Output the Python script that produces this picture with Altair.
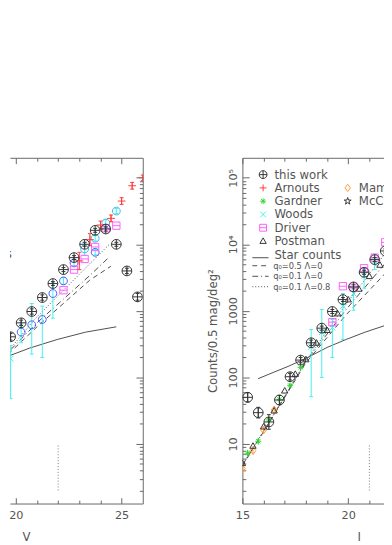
import altair as alt
import pandas as pd

# ------------------------------------------------------------------ data
# (values are log10 of counts per 0.5 mag per deg^2)

# ---- left panel : V band ----
v_this = [19.75, 20.25, 20.75, 21.25, 21.75, 22.25, 22.75, 23.25, 23.75, 24.25, 24.75, 25.25, 25.75]
v_this_log = [2.61, 2.82, 2.99, 3.20, 3.41, 3.62, 3.80, 4.00, 4.21, 4.23, 4.00, 3.60, 3.21]
v_this_err = [0.05, 0.04, 0.04, 0.04, 0.03, 0.03, 0.03, 0.03, 0.03, 0.03, 0.03, 0.04, 0.05]

v_blue = [20.25, 20.75, 21.25, 21.75, 22.25, 22.75, 23.75]
v_blue_log = [2.68, 2.79, 2.87, 3.26, 3.45, 3.72, 3.88]
v_blue_lo = [2.52, 2.35, 2.30, 2.89, 3.40, 3.67, 3.84]
v_blue_hi = [2.80, 3.11, 3.07, 3.42, 3.50, 3.77, 3.92]

v_cyanc = [23.25, 23.75, 24.25, 24.75]
v_cyanc_log = [3.93, 4.09, 4.32, 4.50]
v_cyanc_lo = [3.83, 4.05, 4.27, 4.46]
v_cyanc_hi = [4.02, 4.13, 4.37, 4.54]

v_woods = [19.75]
v_woods_log = [2.28]
v_woods_lo = [1.68]
v_woods_hi = [2.48]

v_driver = [22.25, 22.75, 23.25, 23.75, 24.25, 24.75]
v_driver_log = [3.31, 3.62, 3.78, 3.96, 4.24, 4.28]

v_arn = [23.0, 23.5, 24.0, 24.5, 25.0, 25.5, 26.0]
v_arn_log = [3.75, 4.07, 4.29, 4.39, 4.65, 4.88, 5.00]
v_arn_err = [0.13, 0.09, 0.06, 0.05, 0.05, 0.05, 0.04]

v_star = [19.4, 20.65, 21.96, 23.3, 24.75]
v_star_log = [2.29, 2.44, 2.57, 2.68, 2.76]

v_m05 = [19.34, 21.0, 23.49, 24.49]          # q0=0.5 L=0
v_m05_log = [2.26, 2.76, 3.46, 3.67]
v_m01 = [19.34, 21.0, 23.49, 24.42]          # q0=0.1 L=0
v_m01_log = [2.28, 2.82, 3.53, 3.81]
v_m01L = [19.34, 20.88, 23.03, 24.42]        # q0=0.1 L=0.8
v_m01L_log = [2.28, 2.87, 3.56, 4.00]

v_limit = [22.0]

# ---- right panel : I band ----
i_this = [15.25, 15.75, 16.25, 16.75, 17.25, 17.75, 18.25, 18.75, 19.25, 19.75, 20.25, 20.75, 21.25, 21.75]
i_this_log = [1.70, 1.47, 1.33, 1.66, 2.01, 2.26, 2.52, 2.74, 2.99, 3.17, 3.36, 3.58, 3.77, 3.90]
i_this_err = [0.07, 0.08, 0.11, 0.07, 0.05, 0.04, 0.04, 0.03, 0.03, 0.03, 0.03, 0.03, 0.03, 0.03]

i_woods = [18.25, 18.75, 19.25, 19.75, 20.25, 20.75, 21.25]
i_woods_log = [2.46, 2.68, 2.75, 3.07, 3.26, 3.53, 3.75]
i_woods_lo = [1.71, 2.00, 2.30, 2.57, 3.01, 3.34, 3.62]
i_woods_hi = [2.72, 3.02, 2.87, 3.26, 3.36, 3.63, 3.85]

i_driver = [19.25, 19.75, 20.25, 20.75, 21.25, 21.75]
i_driver_log = [2.83, 3.37, 3.35, 3.64, 3.80, 4.03]

i_postman = [15.0, 15.5, 16.0, 16.5, 17.0, 17.5, 18.0, 18.5, 19.0, 19.5, 20.0, 20.5, 21.0, 21.5]
i_postman_log = [0.71, 0.97, 1.26, 1.50, 1.80, 2.05, 2.27, 2.52, 2.71, 2.96, 3.17, 3.33, 3.52, 3.69]

i_gardner = [15.25, 15.75, 16.25, 16.75, 17.25, 17.75]
i_gardner_log = [0.86, 1.04, 1.36, 1.67, 1.88, 2.15]
i_gardner_err = [0.05, 0.05, 0.04, 0.04, 0.03, 0.03]

i_mamon = [15.0, 15.5, 16.0, 16.5]
i_mamon_log = [0.63, 0.90, 1.21, 1.51]
i_mamon_err = [0.07, 0.06, 0.05, 0.05]

i_star = [15.74, 16.5, 17.2, 18.15, 19.0, 19.9, 20.8, 21.74]
i_star_log = [1.98, 2.08, 2.17, 2.31, 2.45, 2.57, 2.68, 2.78]

i_m05 = [15.0, 16.5, 18.0, 19.9, 21.74]
i_m05_log = [0.67, 1.44, 2.22, 2.94, 3.56]
i_m01 = [15.0, 16.5, 18.0, 19.9, 21.74]
i_m01_log = [0.68, 1.45, 2.24, 3.02, 3.71]
i_m01L = [15.0, 16.5, 18.0, 19.9, 21.74]
i_m01L_log = [0.68, 1.45, 2.25, 3.10, 3.86]

i_limit = [21.0]
limit_lo, limit_hi = [2.0], [10.0]

# ---- axes / legend text ----
v_tick_labels = [20, 25]
i_tick_labels = [15, 20]
y_label_vals = [10, 100, 1000, 10000, 100000]
y_label_txt = ['10', '100', '1000', '10\u2074', '10\u2075']

legend_labels = ['this work', 'Arnouts', 'Gardner', 'Woods', 'Driver', 'Postman']
legend2_labels = ['Mamon', 'McCracken']
line_labels = ['Star counts', 'q\u2080=0.5 \u039b=0', 'q\u2080=0.1 \u039b=0', 'q\u2080=0.1 \u039b=0.8']

# ------------------------------------------------------------------ style
FONT = 'DejaVu Sans'
TXT = '#555555'
FRAME = '#666666'
INK = '#333333'
RED = '#ff3b3b'
GREEN = '#2ed82e'
CYAN = '#3ff0f0'
MAGENTA = '#ff5cff'
ORANGE = '#ff9a3c'
BLUE = '#3f5fff'
LBLUE = '#35b8f0'
LINEC = '#4d4d4d'

OPLUS = 'M-1,0A1,1 0 1,0 1,0A1,1 0 1,0 -1,0M-1,0L1,0M0,-1L0,1'
CIRC = 'M-1,0A1,1 0 1,0 1,0A1,1 0 1,0 -1,0'
PLUS = 'M-1,0L1,0M0,-1L0,1'
CROSS = 'M-1,-1L1,1M-1,1L1,-1'
AST = 'M-1,0L1,0M0,-1L0,1M-0.7,-0.7L0.7,0.7M-0.7,0.7L0.7,-0.7'
SQUARE = 'M-1,-1L1,-1L1,1L-1,1ZM-1,0L1,0'
TRI = 'M0,-1L1,0.75L-1,0.75Z'
DIAMOND = 'M0,-1L0.75,0L0,1L-0.75,0Z'
STAR = ('M0,-1L0.224,-0.309L0.951,-0.309L0.363,0.118L0.588,0.809L0,0.382'
        'L-0.588,0.809L-0.363,0.118L-0.951,-0.309L-0.224,-0.309Z')
CAP = 'M-1,0L1,0'

DASH05 = [5, 4]
DASH01 = [6, 3, 1, 3]
DOT = [1, 2]

H = 354
WL, WR = 136, 145
YSC = alt.Scale(type='log', domain=[1.27, 199500], nice=False)
XLS = alt.Scale(domain=[19.72, 26.0], nice=False, zero=False)
XRS = alt.Scale(domain=[15.0, 21.69], nice=False, zero=False)

AX = dict(grid=False, domainColor=FRAME, domainWidth=1, tickColor=FRAME, tickWidth=1,
          labelColor=TXT, labelFont=FONT, labelFontSize=11.5, titleColor=TXT,
          titleFont=FONT, titleFontSize=12, titleFontWeight='normal')
XT = {'condition': {'test': 'datum.value % 5 === 0', 'value': 6}, 'value': 3.5}
YT = {'condition': {'test': 'abs(log(datum.value)/LN10 - round(log(datum.value)/LN10)) < 0.001',
                    'value': 7}, 'value': 3.5}

y_ticks = [m * 10 ** k for k in range(0, 6) for m in range(1, 10) if 1.27 <= m * 10 ** k <= 199500]
lab_expr = ''.join(f"datum.value == {v} ? '{t}' : " for v, t in zip(y_label_vals, y_label_txt)) + "''"


# ------------------------------------------------------------------ helpers
def frame(xs, logs, lo=None, hi=None, err=None):
    d = pd.DataFrame({'x': xs, 'n': [10 ** v for v in logs]})
    if err is not None:
        lo = [v - e for v, e in zip(logs, err)]
        hi = [v + e for v, e in zip(logs, err)]
    if lo is not None:
        d['lo'] = [10 ** v for v in lo]
        d['hi'] = [10 ** v for v in hi]
    return d


def points(d, xs, shape, size, color, sw=1.0):
    return alt.Chart(d).mark_point(shape=shape, size=size, filled=False, color=color,
                                   strokeWidth=sw, opacity=1, clip=True).encode(
        x=alt.X('x:Q', scale=xs, axis=None), y=alt.Y('n:Q', scale=YSC, axis=None))


def errbars(d, xs, color, capw=0):
    out = [alt.Chart(d).mark_rule(color=color, strokeWidth=1, clip=True).encode(
        x=alt.X('x:Q', scale=xs, axis=None), y=alt.Y('lo:Q', scale=YSC, axis=None),
        y2=alt.Y2('hi:Q'))]
    if capw:
        out.append(alt.Chart(d).transform_fold(['lo', 'hi'], as_=['k', 'v']).mark_point(
            shape=CAP, size=capw ** 2, filled=False, color=color, strokeWidth=1, opacity=1,
            clip=True).encode(x=alt.X('x:Q', scale=xs, axis=None),
                              y=alt.Y('v:Q', scale=YSC, axis=None)))
    return out


def curve(xv, logs, xs, dash=None, color=LINEC):
    kw = dict(color=color, strokeWidth=1, clip=True)
    if dash:
        kw['strokeDash'] = dash
    return alt.Chart(frame(xv, logs)).mark_line(**kw).encode(
        x=alt.X('x:Q', scale=xs, axis=None), y=alt.Y('n:Q', scale=YSC, axis=None))


def limit_rule(xv, xs):
    d = pd.DataFrame({'x': xv, 'lo': limit_lo, 'hi': limit_hi})
    return alt.Chart(d).mark_rule(color='#777777', strokeWidth=1, strokeDash=DOT, clip=True).encode(
        x=alt.X('x:Q', scale=xs, axis=None), y=alt.Y('lo:Q', scale=YSC, axis=None),
        y2=alt.Y2('hi:Q'))


def carrier(xs, x0, xaxis, yaxis=None):
    d = pd.DataFrame({'x': [x0], 'n': [100.0]})
    return alt.Chart(d).mark_point(opacity=0, size=1).encode(
        x=alt.X('x:Q', scale=xs, axis=xaxis), y=alt.Y('n:Q', scale=YSC, axis=yaxis))


def tick_axis(orient, offset, values, tsize, domain=False):
    return alt.Axis(orient=orient, offset=offset, values=values, labels=False, ticks=True,
                    tickSize=tsize, domain=domain, title=None, **AX)


def x_label_axis(values, title, tx):
    return alt.Axis(orient='bottom', values=values, ticks=False, tickSize=0, labels=True,
                    labelPadding=6, labelFlush=False, labelBaseline='top', labelOverlap=False,
                    domain=True, title=title, titleX=tx, titleY=28.5, titleAlign='center',
                    titleBaseline='top', **AX)


ONE = pd.DataFrame({'k': [0]})


def lg_symbol(px, py, shape, size, color):
    return alt.Chart(ONE).mark_point(shape=shape, size=size, filled=False, color=color,
                                     strokeWidth=1, opacity=1, clip=True).encode(
        x=alt.value(px), y=alt.value(py))


def lg_text(px, py, label, size=12, align='left'):
    return alt.Chart(ONE).mark_text(text=label, align=align, baseline='middle', font=FONT,
                                    fontSize=size, color=TXT, clip=True).encode(
        x=alt.value(px), y=alt.value(py))


def lg_line(x1, x2, py, dash=None):
    kw = dict(color=LINEC, strokeWidth=1, clip=True)
    if dash:
        kw['strokeDash'] = dash
    return alt.Chart(ONE).mark_rule(**kw).encode(x=alt.value(x1), x2=alt.value(x2), y=alt.value(py))


# ------------------------------------------------------------------ left panel
xt_L = list(range(20, 26))
left_layers = [
    carrier(XLS, 22.0, x_label_axis(v_tick_labels, 'V', 16.5)),
    carrier(XLS, 22.0, tick_axis('top', -H, xt_L, XT),
            tick_axis('left', -WL, y_ticks, YT, domain=True)),
    carrier(XLS, 22.0, tick_axis('bottom', -H, xt_L, XT, domain=True)),
    curve(v_star, v_star_log, XLS),
    curve(v_m05, v_m05_log, XLS, DASH05),
    curve(v_m01, v_m01_log, XLS, DASH01),
    curve(v_m01L, v_m01L_log, XLS, DOT),
    limit_rule(v_limit, XLS),
]
left_layers += errbars(frame(v_blue, v_blue_log, v_blue_lo, v_blue_hi), XLS, CYAN, 4)
left_layers += errbars(frame(v_cyanc, v_cyanc_log, v_cyanc_lo, v_cyanc_hi), XLS, CYAN, 4)
left_layers += errbars(frame(v_woods, v_woods_log, v_woods_lo, v_woods_hi), XLS, CYAN, 4)
left_layers += [
    points(frame(v_woods, v_woods_log), XLS, CROSS, 36, CYAN),
    points(frame(v_blue, v_blue_log), XLS, CIRC, 64, BLUE),
    points(frame(v_cyanc, v_cyanc_log), XLS, CIRC, 64, LBLUE),
    points(frame(v_driver, v_driver_log), XLS, SQUARE, 56, MAGENTA),
]
left_layers += errbars(frame(v_arn, v_arn_log, err=v_arn_err), XLS, RED, 4)
left_layers.append(points(frame(v_arn, v_arn_log), XLS, PLUS, 64, RED))
left_layers += errbars(frame(v_this, v_this_log, err=v_this_err), XLS, INK, 4)
left_layers.append(points(frame(v_this, v_this_log), XLS, OPLUS, 100, INK))
left_layers.append(lg_text(2, 98.8, line_labels[0], 12, 'right'))

left = alt.layer(*left_layers).properties(width=WL, height=H).resolve_axis(
    x='independent', y='independent')

# ------------------------------------------------------------------ right panel
xt_R = list(range(15, 22))
ylab_R = alt.Axis(orient='left', values=y_label_vals, labelExpr=lab_expr, labelAngle=270,
                  labelAlign='center', labelBaseline='alphabetic', labelPadding=6,
                  labelOverlap=False, ticks=False, tickSize=0, domain=True,
                  title='Counts/0.5 mag/deg\u00b2', titleAngle=270, titleX=-26, titleY=H / 2,
                  titleAlign='center', titleBaseline='alphabetic', **AX)
right_layers = [
    carrier(XRS, 18.0, x_label_axis(i_tick_labels, 'I', 119.2), ylab_R),
    carrier(XRS, 18.0, tick_axis('top', -H, xt_R, XT),
            tick_axis('right', -WR, y_ticks, YT)),
    carrier(XRS, 18.0, tick_axis('bottom', -H, xt_R, XT, domain=True)),
    curve(i_star, i_star_log, XRS),
    curve(i_m05, i_m05_log, XRS, DASH05),
    curve(i_m01, i_m01_log, XRS, DASH01),
    curve(i_m01L, i_m01L_log, XRS, DOT),
    limit_rule(i_limit, XRS),
]
right_layers += errbars(frame(i_woods, i_woods_log, i_woods_lo, i_woods_hi), XRS, CYAN, 4)
right_layers += errbars(frame(i_mamon, i_mamon_log, err=i_mamon_err), XRS, ORANGE, 0)
right_layers += errbars(frame(i_gardner, i_gardner_log, err=i_gardner_err), XRS, GREEN, 0)
right_layers += [
    points(frame(i_woods, i_woods_log), XRS, CROSS, 36, CYAN),
    points(frame(i_mamon, i_mamon_log), XRS, DIAMOND, 64, ORANGE),
    points(frame(i_gardner, i_gardner_log), XRS, AST, 36, GREEN),
    points(frame(i_postman, i_postman_log), XRS, TRI, 42, INK),
    points(frame(i_driver, i_driver_log), XRS, SQUARE, 56, MAGENTA),
]
right_layers += errbars(frame(i_this, i_this_log, err=i_this_err), XRS, INK, 4)
right_layers.append(points(frame(i_this, i_this_log), XRS, OPLUS, 100, INK))

# legend (inside the right panel)
leg_shapes = [OPLUS, PLUS, AST, CROSS, SQUARE, TRI]
leg_sizes = [64, 49, 36, 36, 49, 42]
leg_colors = [INK, RED, GREEN, CYAN, MAGENTA, INK]
leg2_shapes = [DIAMOND, STAR]
leg2_colors = [ORANGE, INK]
line_dashes = [None, DASH05, DASH01, DOT]
row0, step = 17.2, 13.6
for i, lab in enumerate(legend_labels):
    py = row0 + i * step
    right_layers.append(lg_symbol(21.2, py, leg_shapes[i], leg_sizes[i], leg_colors[i]))
    right_layers.append(lg_text(32.8, py, lab))
for i, lab in enumerate(legend2_labels):
    py = row0 + (i + 1) * step
    right_layers.append(lg_symbol(107.8, py, leg2_shapes[i], 56, leg2_colors[i]))
    right_layers.append(lg_text(119.2, py, lab))
line_rows = [row0 + 6 * step + 1, 110.5, 121.3, 132.0]
for i, lab in enumerate(line_labels):
    py = line_rows[i]
    right_layers.append(lg_line(10.2, 26.8, py + (2.5 if i == 0 else 0), line_dashes[i]))
    right_layers.append(lg_text(32.8 if i == 0 else 31.5, py, lab, 12 if i == 0 else 8.5))

right = alt.layer(*right_layers).properties(width=WR, height=H).resolve_axis(
    x='independent', y='independent')

chart = alt.hconcat(left, right, spacing=102, bounds='flush').properties(
    padding={'left': 0, 'top': 146, 'right': 0, 'bottom': -6}
).configure_view(stroke=None).configure_axis(grid=False)

chart.save('out.html', embed_options={'renderer': 'svg', 'actions': False})
